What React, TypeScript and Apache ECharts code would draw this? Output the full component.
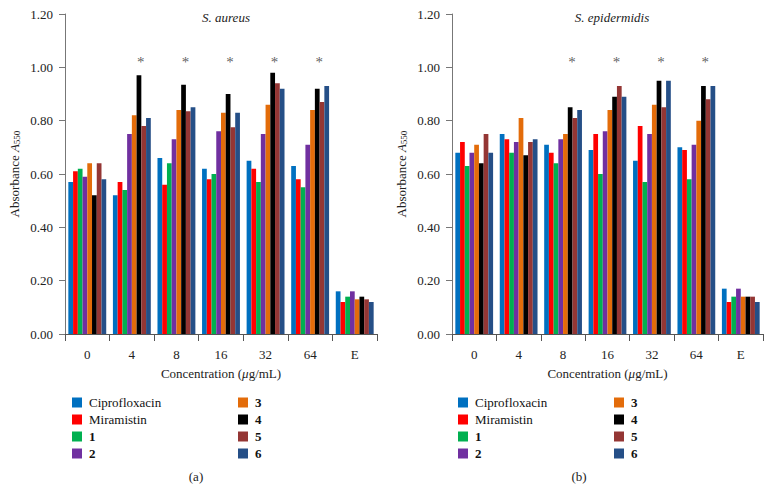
import React, { useEffect, useRef } from "react";
import * as echarts from "echarts";

const categories = ["0", "4", "8", "16", "32", "64", "E"];
const seriesNames = ["Ciprofloxacin", "Miramistin", "1", "2", "3", "4", "5", "6"];
const seriesColors = ["#0070C0", "#FF0000", "#00B050", "#7030A0", "#E36C0A", "#000000", "#943634", "#254F87"];

// S. aureus
const aureusCiprofloxacin = [0.57, 0.52, 0.66, 0.62, 0.65, 0.63, 0.16];
const aureusMiramistin = [0.61, 0.57, 0.56, 0.58, 0.62, 0.58, 0.12];
const aureus1 = [0.62, 0.54, 0.64, 0.60, 0.57, 0.55, 0.14];
const aureus2 = [0.59, 0.75, 0.73, 0.76, 0.75, 0.71, 0.16];
const aureus3 = [0.64, 0.82, 0.84, 0.83, 0.86, 0.84, 0.13];
const aureus4 = [0.52, 0.97, 0.935, 0.90, 0.98, 0.92, 0.14];
const aureus5 = [0.64, 0.78, 0.835, 0.775, 0.94, 0.87, 0.13];
const aureus6 = [0.58, 0.81, 0.85, 0.83, 0.92, 0.93, 0.12];

// S. epidermidis
const epiCiprofloxacin = [0.68, 0.75, 0.71, 0.69, 0.65, 0.70, 0.17];
const epiMiramistin = [0.72, 0.73, 0.68, 0.75, 0.78, 0.69, 0.12];
const epi1 = [0.63, 0.68, 0.64, 0.60, 0.57, 0.58, 0.14];
const epi2 = [0.68, 0.72, 0.73, 0.76, 0.75, 0.71, 0.17];
const epi3 = [0.71, 0.81, 0.75, 0.84, 0.86, 0.80, 0.14];
const epi4 = [0.64, 0.67, 0.85, 0.89, 0.95, 0.93, 0.14];
const epi5 = [0.75, 0.72, 0.81, 0.93, 0.85, 0.88, 0.14];
const epi6 = [0.68, 0.73, 0.84, 0.89, 0.95, 0.93, 0.12];

const aureusValues = [aureusCiprofloxacin, aureusMiramistin, aureus1, aureus2, aureus3, aureus4, aureus5, aureus6];
const epiValues = [epiCiprofloxacin, epiMiramistin, epi1, epi2, epi3, epi4, epi5, epi6];

const aureusStarCategories = ["4", "8", "16", "32", "64"];
const epiStarCategories = ["8", "16", "32", "64"];
const starLevel = 1.02;

const yTicks = { min: 0, max: 1.2, interval: 0.2 };

const FONT = "'Liberation Serif', 'DejaVu Serif', serif";

export default function App() {
  const ref = useRef<HTMLDivElement>(null);

  useEffect(() => {
    if (!ref.current) return;
    const chart = echarts.init(ref.current, null, { renderer: "svg" });

    const grids = [
      { left: 65, top: 14, width: 312, height: 320 },
      { left: 452, top: 14, width: 311, height: 320 },
    ];

    const xAxis = [0, 1].map((i) => ({
      type: "category",
      gridIndex: i,
      data: categories,
      name: "Concentration ({i|μ}g/mL)",
      nameLocation: "middle",
      nameGap: 33,
      nameTextStyle: {
        fontFamily: FONT,
        fontSize: 13,
        color: "#222",
        rich: { i: { fontFamily: FONT, fontSize: 13, fontStyle: "italic", color: "#222" } },
      },
      axisLine: { lineStyle: { color: "#555", width: 1 } },
      axisTick: { show: true, length: 7, lineStyle: { color: "#555" } },
      axisLabel: { fontFamily: FONT, fontSize: 13, color: "#222", margin: 14 },
      splitLine: { show: false },
    }));

    const yAxis = [0, 1].map((i) => ({
      type: "value",
      gridIndex: i,
      min: yTicks.min,
      max: yTicks.max,
      interval: yTicks.interval,
      name: "Absorbance {i|A}{s|550}",
      nameLocation: "middle",
      nameGap: 44,
      nameRotate: 90,
      nameTextStyle: {
        fontFamily: FONT,
        fontSize: 13,
        color: "#222",
        rich: {
          i: { fontFamily: FONT, fontSize: 13, fontStyle: "italic", color: "#222" },
          s: { fontFamily: FONT, fontSize: 9, color: "#222", verticalAlign: "bottom", padding: [5, 0, 0, 0] },
        },
      },
      axisLine: { show: true, lineStyle: { color: "#777", width: 1 } },
      axisTick: { show: true, length: 6, lineStyle: { color: "#777" } },
      axisLabel: {
        fontFamily: FONT,
        fontSize: 13,
        color: "#222",
        margin: 12,
        formatter: (v: number) => v.toFixed(2),
      },
      splitLine: { show: false },
    }));

    const barSeries: any[] = [];
    [aureusValues, epiValues].forEach((vals, gi) => {
      vals.forEach((arr, si) => {
        barSeries.push({
          type: "bar",
          name: seriesNames[si],
          xAxisIndex: gi,
          yAxisIndex: gi,
          data: arr,
          barGap: "0%",
          barCategoryGap: "15%",
          itemStyle: { color: seriesColors[si] },
        });
      });
    });

    const starSeries = [aureusStarCategories, epiStarCategories].map((cats, gi) => ({
      type: "scatter",
      name: "significance",
      xAxisIndex: gi,
      yAxisIndex: gi,
      symbolSize: 1,
      itemStyle: { color: "rgba(0,0,0,0)" },
      data: cats.map((c) => [c, starLevel]),
      label: {
        show: true,
        position: "inside",
        formatter: "*",
        offset: [9, 0],
        fontFamily: FONT,
        fontSize: 15,
        color: "#333",
      },
      silent: true,
    }));

    const legendRich = {
      n: { fontFamily: FONT, fontSize: 13, color: "#111", lineHeight: 13, padding: [0, 0, 0, 2] },
      b: { fontFamily: FONT, fontSize: 13, fontWeight: "bold", color: "#111", lineHeight: 13, padding: [0, 0, 0, 2] },
    };
    const mkLegend = (left: number, data: string[]) => ({
      orient: "vertical",
      left,
      top: 391,
      itemWidth: 10,
      itemHeight: 10,
      itemGap: 4,
      icon: "rect",
      data,
      formatter: (name: string) => (/^\d$/.test(name) ? `{b|${name}}` : `{n|${name}}`),
      textStyle: { rich: legendRich },
    });

    chart.setOption({
      animation: false,
      backgroundColor: "#fff",
      title: [
        {
          text: "S. aureus",
          left: 221,
          top: 6,
          textAlign: "center",
          textStyle: { fontFamily: FONT, fontSize: 13, fontStyle: "italic", fontWeight: "normal", color: "#222" },
        },
        {
          text: "S. epidermidis",
          left: 607,
          top: 6,
          textAlign: "center",
          textStyle: { fontFamily: FONT, fontSize: 13, fontStyle: "italic", fontWeight: "normal", color: "#222" },
        },
        {
          text: "(a)",
          left: 191,
          top: 465,
          textAlign: "center",
          textStyle: { fontFamily: FONT, fontSize: 13, fontWeight: "normal", color: "#222" },
        },
        {
          text: "(b)",
          left: 574,
          top: 465,
          textAlign: "center",
          textStyle: { fontFamily: FONT, fontSize: 13, fontWeight: "normal", color: "#222" },
        },
      ],
      legend: [
        mkLegend(67, seriesNames.slice(0, 4)),
        mkLegend(233, seriesNames.slice(4)),
        mkLegend(453, seriesNames.slice(0, 4)),
        mkLegend(609, seriesNames.slice(4)),
      ],
      grid: grids,
      xAxis,
      yAxis,
      series: [...barSeries, ...starSeries],
    });

    return () => chart.dispose();
  }, []);

  return <div ref={ref} style={{ width: 772, height: 490, position: "absolute", left: 0, top: 0 }} />;
}
